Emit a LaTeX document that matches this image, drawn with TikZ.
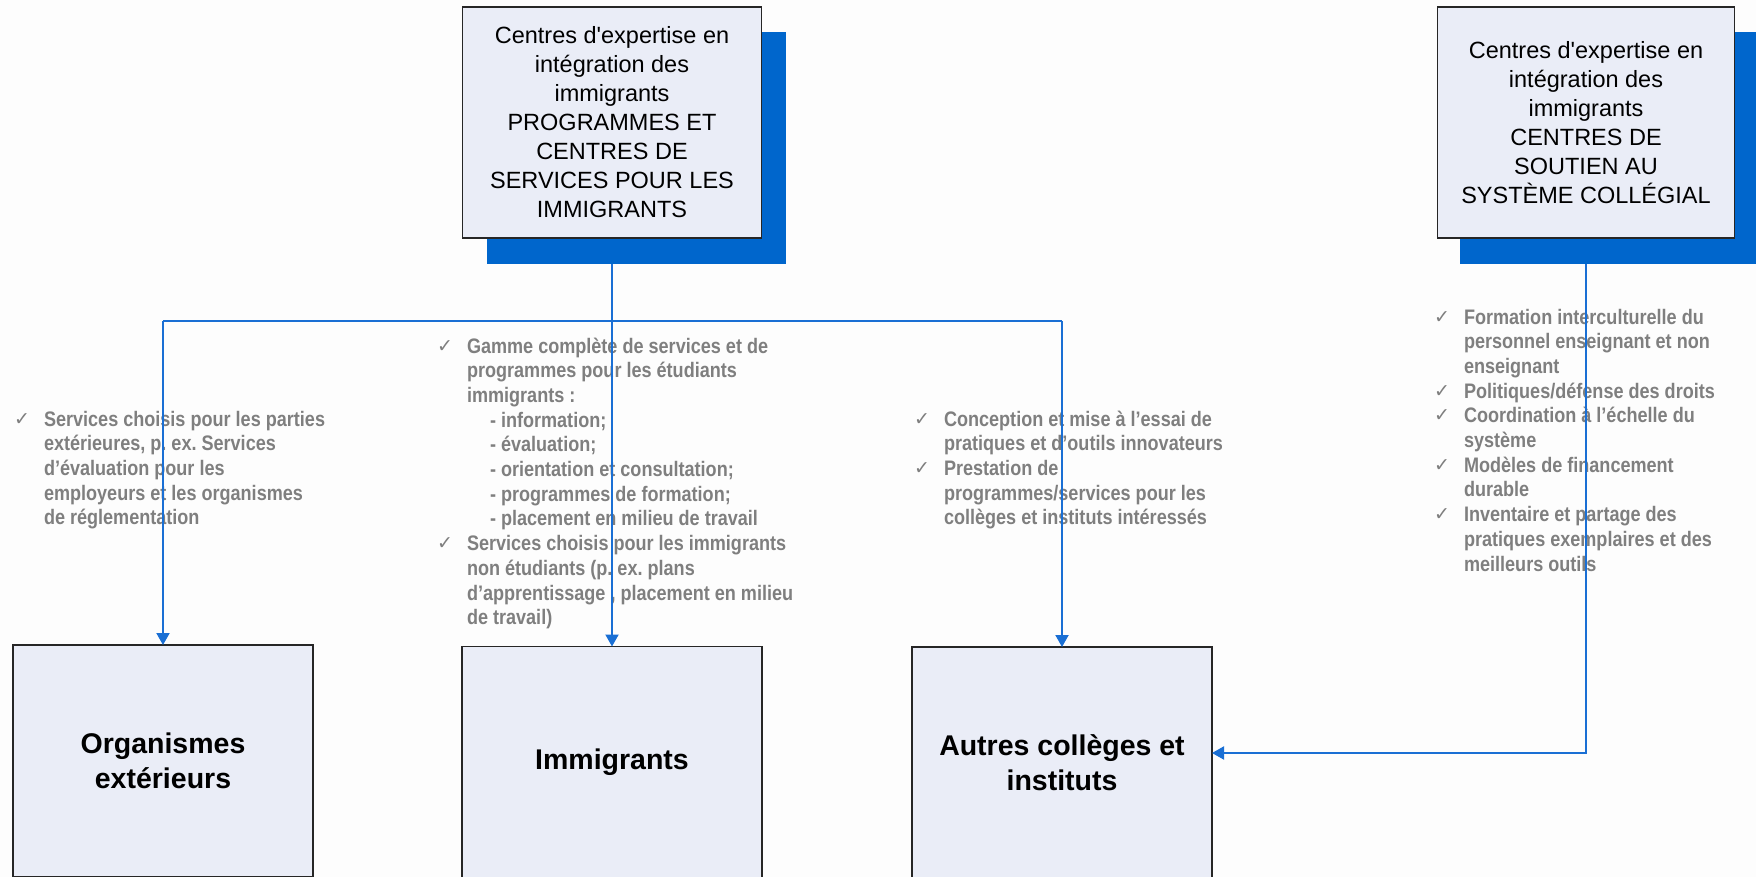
\documentclass[tikz,border=0pt]{standalone}
\usepackage{fontspec}
\setmainfont[Ligatures=TeXOff]{Liberation Sans}
\newfontfamily\bulfont[FakeStretch=0.86]{Liberation Sans Bold}
\newfontfamily\ckfont{DejaVu Sans}
\usetikzlibrary{arrows.meta}
\definecolor{boxfill}{HTML}{EAEDF7}
\definecolor{shblue}{HTML}{0066CC}
\definecolor{lnblue}{HTML}{1A6FD4}
\definecolor{bulgray}{HTML}{7F7F7F}
\definecolor{bgcol}{HTML}{FDFDFD}
\newcommand\ck{\makebox[30pt][l]{\raisebox{1pt}{\ckfont\fontsize{19}{19}\selectfont ✓}}}
\newcommand\ind{\hspace*{30pt}}
\newcommand\subi{\hspace*{53pt}}
\frenchspacing
\begin{document}
\begin{tikzpicture}[x=1pt,y=-1pt,
  topbox/.style={draw=black!85, line width=1.5pt, fill=boxfill, minimum width=299pt, minimum height=231pt, inner sep=0pt, outer sep=0pt, align=center, font=\fontsize{23.5}{29}\selectfont},
  shbox/.style={fill=shblue, minimum width=299pt, minimum height=232pt, inner sep=0pt, outer sep=0pt},
  botbox/.style={draw=black!85, line width=1.5pt, fill=boxfill, minimum width=300pt, minimum height=232pt, inner sep=0pt, outer sep=0pt, align=center, font=\bfseries\fontsize{28.5}{35}\selectfont},
  bul/.style={anchor=base west, inner sep=0pt, outer sep=0pt, text=bulgray, font=\bulfont\fontsize{21}{24.7}\selectfont},
  conn/.style={draw=lnblue, line width=2pt},
  arr/.style={conn, -{Triangle[width=13pt,length=12pt]}}
]
\useasboundingbox (0,0) rectangle (1756,877);
\clip (0,0) rectangle (1756,877);
\fill[bgcol] (0,0) rectangle (1756,877);

% top boxes with shadows
\node[shbox] (Ash) at (636,148) {};
\node[topbox] (A) at (612,122.5) {Centres d'expertise en\\intégration des\\immigrants\\PROGRAMMES ET\\CENTRES DE\\SERVICES POUR LES\\IMMIGRANTS};
\node[shbox, minimum width=297pt] (Bsh) at (1608,148) {};
\node[topbox, minimum width=297pt] (B) at (1586,122.5) {Centres d'expertise en\\intégration des\\immigrants\\CENTRES DE\\SOUTIEN AU\\SYSTÈME COLLÉGIAL};

% bottom boxes
\node[botbox] (O) at (163,761) {Organismes\\extérieurs};
\node[botbox] (I) at (612,762.5) {Immigrants};
\node[botbox] (C) at (1062,763) {Autres collèges et\\instituts};

% bullet texts
\node[bul] (t1) at (14,426) {\begin{tabular}[t]{@{}l@{}}
\ck Services choisis pour les parties\\
\ind extérieures, p. ex. Services\\
\ind d’évaluation pour les\\
\ind employeurs et les organismes\\
\ind de réglementation
\end{tabular}};
\node[bul] (t2) at (437,353) {\begin{tabular}[t]{@{}l@{}}
\ck Gamme complète de services et de\\
\ind programmes pour les étudiants\\
\ind immigrants :\\
\subi - information;\\
\subi - évaluation;\\
\subi - orientation et consultation;\\
\subi - programmes de formation;\\
\subi - placement en milieu de travail\\
\ck Services choisis pour les immigrants\\
\ind non étudiants (p. ex. plans\\
\ind d’apprentissage , placement en milieu\\
\ind de travail)
\end{tabular}};
\node[bul] (t3) at (914,426) {\begin{tabular}[t]{@{}l@{}}
\ck Conception et mise à l’essai de\\
\ind pratiques et d’outils innovateurs\\
\ck Prestation de\\
\ind programmes/services pour les\\
\ind collèges et instituts intéressés
\end{tabular}};
\node[bul] (t4) at (1434,324) {\begin{tabular}[t]{@{}l@{}}
\ck Formation interculturelle du\\
\ind personnel enseignant et non\\
\ind enseignant\\
\ck Politiques/défense des droits\\
\ck Coordination à l’échelle du\\
\ind système\\
\ck Modèles de financement\\
\ind durable\\
\ck Inventaire et partage des\\
\ind pratiques exemplaires et des\\
\ind meilleurs outils
\end{tabular}};

% connectors
\coordinate (bus) at (612,321);
\coordinate (bend) at (1586,753);
\draw[conn] (O.north |- bus) -- (C.north |- bus);
\draw[arr] (O.north |- bus) -- (O.north);
\draw[arr] (C.north |- bus) -- (C.north);
\draw[arr] (A |- Ash.south) -- (I.north);
\draw[arr] (B |- Bsh.south) -- (bend) -- (bend -| C.east);
\end{tikzpicture}
\end{document}
